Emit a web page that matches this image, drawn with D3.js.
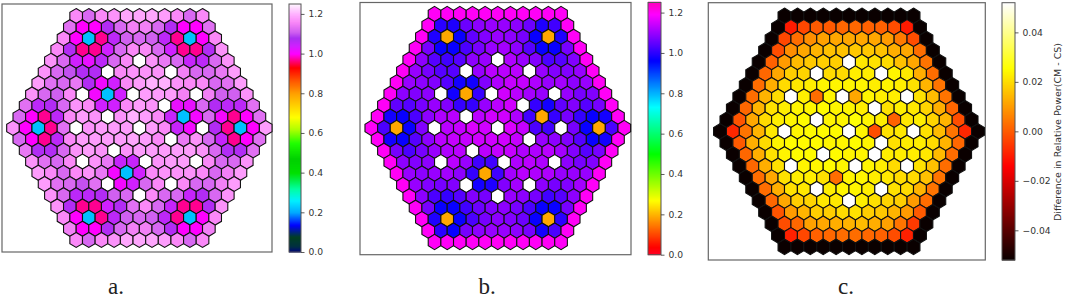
<!DOCTYPE html>
<html>
<head>
<meta charset="utf-8">
<script src="https://cdn.jsdelivr.net/npm/d3@7"></script>
<style>
  body { margin: 0; background: #fff; }
  svg { display: block; }
</style>
</head>
<body>
<svg width="1065" height="300"></svg>
<script>
// null = empty position, drawn white
const valuesA = [
  [1.16,1.12,1.16,1.17,1.19,1.19,1.19,1.18,1.16,1.12,1.16],
  [1.13,1.00,1.00,1.07,1.12,1.15,1.15,1.12,1.07,1.00,1.00,1.13],
  [1.16,1.00,0.22,0.97,1.06,1.11,1.12,1.11,1.06,0.97,0.22,1.00,1.16],
  [1.16,1.07,0.97,0.97,1.04,1.12,1.16,1.16,1.12,1.04,0.97,0.97,1.07,1.17],
  [1.17,1.12,1.04,1.02,1.06,1.12,1.16,null,1.17,1.14,1.12,1.05,1.06,1.12,1.17],
  [1.17,1.12,1.10,1.07,1.07,null,1.16,1.17,1.17,1.17,null,1.15,1.12,1.12,1.14,1.18],
  [1.18,1.13,1.12,1.14,1.07,1.01,1.04,1.16,1.18,1.20,1.20,1.17,1.16,1.16,1.12,1.13,1.18],
  [1.17,1.12,1.11,1.16,null,1.01,0.22,1.04,null,1.18,1.18,1.18,1.15,null,1.15,1.11,1.11,1.17],
  [1.13,1.06,1.07,1.12,1.17,1.16,1.04,1.04,1.16,1.18,1.17,null,1.02,1.02,1.12,1.07,1.06,1.06,1.13],
  [1.12,1.00,0.97,1.06,1.16,1.18,1.17,null,1.17,1.20,1.18,1.16,1.05,0.22,1.01,1.12,1.01,0.97,1.00,1.13],
  [1.17,1.00,0.22,0.97,1.13,null,1.17,1.18,1.18,1.18,null,1.18,1.16,1.05,1.01,null,1.07,0.97,0.22,1.00,1.18],
  [1.12,1.00,0.97,1.06,1.16,1.18,1.18,1.18,1.18,1.19,1.18,1.16,null,1.14,1.17,1.12,1.05,0.97,1.00,1.13],
  [1.14,1.07,1.07,1.12,1.17,1.18,1.17,null,1.17,1.18,1.18,1.18,1.18,1.18,1.17,1.12,1.07,1.07,1.13],
  [1.17,1.13,1.12,1.16,null,1.17,1.14,1.05,1.05,null,1.17,1.18,1.18,null,1.16,1.12,1.12,1.17],
  [1.18,1.16,1.12,1.16,1.17,1.14,1.01,0.22,1.04,1.16,1.17,1.17,1.17,1.16,1.12,1.15,1.18],
  [1.18,1.13,1.12,1.10,1.13,null,1.01,1.04,1.12,1.16,null,1.16,1.12,1.12,1.15,1.18],
  [1.17,1.12,1.06,1.06,1.07,1.11,1.12,null,1.16,1.12,1.12,1.05,1.07,1.12,1.17],
  [1.17,1.07,0.97,0.97,1.04,1.07,1.13,1.16,1.12,1.05,0.97,0.97,1.07,1.17],
  [1.16,1.00,0.22,0.97,1.06,1.11,1.12,1.11,1.06,0.97,0.22,1.00,1.16],
  [1.15,1.00,1.00,1.07,1.12,1.15,1.15,1.12,1.07,1.00,1.00,1.15],
  [1.16,1.12,1.16,1.17,1.19,1.19,1.19,1.18,1.16,1.12,1.16]
];

const valuesB = [
  [1.20,1.20,1.20,1.20,1.20,1.20,1.20,1.20,1.20,1.20,1.20],
  [1.20,1.00,0.99,1.06,1.09,1.10,1.10,1.09,1.06,0.99,1.02,1.20],
  [1.20,0.99,0.19,0.97,1.05,1.08,1.10,1.09,1.07,0.97,0.19,0.99,1.20],
  [1.20,1.07,0.97,0.97,1.03,1.07,1.10,1.11,1.09,1.04,0.97,0.97,1.07,1.20],
  [1.20,1.09,1.04,1.02,1.04,1.09,1.10,null,1.12,1.10,1.08,1.03,1.04,1.08,1.20],
  [1.20,1.10,1.07,1.04,1.04,null,1.10,1.13,1.13,1.13,null,1.10,1.08,1.08,1.10,1.20],
  [1.20,1.10,1.09,1.08,1.04,0.98,0.98,1.08,1.12,1.14,1.14,1.12,1.10,1.11,1.09,1.10,1.20],
  [1.20,1.09,1.08,1.09,null,0.98,0.19,1.01,null,1.15,1.13,1.11,1.10,null,1.10,1.07,1.08,1.20],
  [1.20,1.05,1.04,1.07,1.10,1.08,1.01,1.01,1.10,1.13,1.15,null,1.01,0.98,1.05,1.08,1.04,1.07,1.20],
  [1.20,0.98,0.97,1.03,1.09,1.12,1.13,null,1.13,1.15,1.15,1.12,1.02,0.19,1.01,1.07,1.01,0.97,0.98,1.20],
  [1.20,1.03,0.19,0.97,1.08,null,1.13,1.14,1.16,1.15,null,1.16,1.14,1.03,1.02,null,1.07,0.97,0.19,1.03,1.20],
  [1.20,0.98,0.97,1.04,1.09,1.13,1.14,1.14,1.15,1.15,1.15,1.14,null,1.10,1.09,1.08,1.04,0.97,0.98,1.20],
  [1.20,1.07,1.03,1.07,1.10,1.12,1.13,null,1.13,1.14,1.14,1.12,1.12,1.13,1.11,1.08,1.04,1.07,1.20],
  [1.20,1.09,1.08,1.09,null,1.13,1.10,1.02,1.02,null,1.12,1.13,1.12,null,1.09,1.07,1.08,1.20],
  [1.20,1.10,1.09,1.10,1.11,1.09,1.01,0.19,1.02,1.11,1.13,1.12,1.12,1.10,1.10,1.10,1.20],
  [1.20,1.10,1.08,1.07,1.08,null,0.98,0.99,1.08,1.11,null,1.09,1.07,1.08,1.11,1.20],
  [1.20,1.09,1.03,1.01,1.04,1.08,1.07,null,1.10,1.09,1.07,1.02,1.04,1.09,1.20],
  [1.20,1.07,0.97,0.97,1.02,1.06,1.08,1.09,1.07,1.03,0.97,0.97,1.07,1.20],
  [1.20,0.99,0.19,0.97,1.03,1.07,1.09,1.08,1.06,0.97,0.19,1.00,1.20],
  [1.20,1.00,0.97,1.07,1.09,1.10,1.10,1.09,1.07,0.98,1.03,1.20],
  [1.20,1.20,1.20,1.20,1.20,1.20,1.20,1.20,1.20,1.20,1.20]
];

const valuesC = [
  [-0.052,-0.052,-0.052,-0.052,-0.052,-0.052,-0.052,-0.052,-0.052,-0.052,-0.052],
  [-0.052,-0.010,-0.003,0.000,0.000,0.002,0.002,0.001,0.001,-0.002,-0.010,-0.052],
  [-0.052,-0.003,0.003,0.008,0.011,0.012,0.012,0.012,0.012,0.010,0.005,-0.002,-0.052],
  [-0.052,-0.002,0.008,0.012,0.014,0.016,0.016,0.017,0.017,0.016,0.013,0.012,0.003,-0.052],
  [-0.052,0.001,0.010,0.015,0.017,0.018,0.018,null,0.022,0.021,0.020,0.016,0.012,0.004,-0.052],
  [-0.052,0.002,0.012,0.018,0.019,null,0.020,0.020,0.023,0.023,null,0.024,0.022,0.013,0.003,-0.052],
  [-0.052,0.003,0.013,0.020,0.022,0.023,0.024,0.024,0.024,0.024,0.023,0.024,0.023,0.021,0.014,0.004,-0.052],
  [-0.052,0.003,0.014,0.020,null,0.023,0.003,0.024,null,0.012,0.024,0.023,0.023,null,0.021,0.015,0.004,-0.052],
  [-0.052,0.002,0.014,0.021,0.023,0.024,0.024,0.025,0.024,0.024,0.023,null,0.021,0.023,0.022,0.019,0.013,0.002,-0.052],
  [-0.052,-0.001,0.012,0.020,0.023,0.024,0.025,null,0.024,0.024,0.026,0.024,0.023,0.001,0.022,0.023,0.019,0.014,-0.002,-0.052],
  [-0.052,-0.008,0.004,0.014,0.022,null,0.024,0.025,0.025,0.025,null,0.024,-0.002,0.021,0.022,null,0.021,0.015,0.004,-0.008,-0.052],
  [-0.052,0.000,0.013,0.020,0.024,0.025,0.025,0.025,0.024,0.024,0.025,0.024,null,0.021,0.023,0.023,0.020,0.014,0.002,-0.052],
  [-0.052,0.002,0.013,0.021,0.024,0.025,0.025,null,0.025,0.024,0.024,null,0.023,0.023,0.023,0.022,0.015,0.003,-0.052],
  [-0.052,0.002,0.013,0.021,null,0.024,0.024,0.025,0.024,null,0.024,0.023,0.020,null,0.021,0.016,0.003,-0.052],
  [-0.052,0.003,0.012,0.021,0.023,0.023,0.021,0.003,0.024,0.024,0.023,0.022,0.020,0.020,0.016,0.004,-0.052],
  [-0.052,0.003,0.013,0.021,0.022,null,0.023,0.024,0.024,0.023,null,0.021,0.020,0.014,0.004,-0.052],
  [-0.052,0.002,0.012,0.018,0.019,0.022,0.022,null,0.023,0.021,0.019,0.018,0.010,0.003,-0.052],
  [-0.052,-0.001,0.010,0.014,0.018,0.018,0.020,0.021,0.018,0.017,0.014,0.010,0.000,-0.052],
  [-0.052,-0.002,0.002,0.011,0.012,0.013,0.014,0.015,0.013,0.011,0.004,-0.005,-0.052],
  [-0.052,-0.009,-0.003,0.001,0.002,0.003,0.003,0.002,0.001,-0.002,-0.009,-0.052],
  [-0.052,-0.052,-0.052,-0.052,-0.052,-0.052,-0.052,-0.052,-0.052,-0.052,-0.052]
];

const ticksA = [0, 0.2, 0.4, 0.6, 0.8, 1.0, 1.2];
const ticksB = [0, 0.2, 0.4, 0.6, 0.8, 1.0, 1.2];
const ticksC = [-0.04, -0.02, 0, 0.02, 0.04];
const panelLabels = ['a.', 'b.', 'c.'];
const colorbarTitle = 'Difference in Relative Power(CM - CS)';

// colormaps, stops picked off the colorbars
const ncarStops = [0, 0.03, 0.076, 0.136, 0.2, 0.26, 0.32, 0.4, 0.47, 0.55, 0.62, 0.68, 0.75, 0.8, 0.87, 0.93, 0.97, 1.0, 1.04, 1.08, 1.11, 1.16, 1.2, 1.25];
const ncarColors = ['#000080', '#003040', '#004020', '#0000ff', '#00a8ff', '#00f0ff', '#00ffa0', '#00e000', '#00d000', '#20ff00', '#b0ff00', '#ffff00', '#ffc800', '#ffa000', '#ff5000', '#ff0000', '#ff0090', '#ff00ff', '#d020ff', '#a830f0', '#d060f0', '#fa88f8', '#ffb0ff', '#fff4ff'];
const rainbowStops = [0, 0.0375, 0.269, 0.5, 0.733, 0.9625, 1.1925, 1.25];
const rainbowColors = ['#ff0029', '#ff0000', '#ffff00', '#00ff00', '#00ffff', '#0000ff', '#ff00ff', '#ff00bf'];
const hotStops = [-0.052, -0.014, 0.0256, 0.052];
const hotColors = ['#0a0000', '#ff0000', '#ffff00', '#ffffff'];

const svg = d3.select('svg');
const font = '"DejaVu Sans", sans-serif';

function drawPanel(p) {
    const g = svg.append('g');
    const x = d3.scaleLinear().domain([-10, 10]).range(p.xRange);
    const y = d3.scaleLinear().domain([0, 20]).range(p.yRange);
    const color = d3.scaleLinear().domain(p.stops).range(p.colors).clamp(true);

    g.append('rect')
        .attr('x', p.frame[0]).attr('y', p.frame[1])
        .attr('width', p.frame[2] - p.frame[0]).attr('height', p.frame[3] - p.frame[1])
        .attr('fill', '#fff').attr('stroke', '#666').attr('stroke-width', 1.2);

    const hexLine = d3.line().x(d => x(d[0])).y(d => y(d[1]));
    const hexPath = (cx, cy) => hexLine([
        [cx, cy - 2 / 3], [cx + 0.5, cy - 1 / 3], [cx + 0.5, cy + 1 / 3],
        [cx, cy + 2 / 3], [cx - 0.5, cy + 1 / 3], [cx - 0.5, cy - 1 / 3]
    ]) + 'Z';

    const cells = p.values.flatMap((row, r) => row.map((v, i) => ({
        col: i - (row.length - 1) / 2, row: r, value: v
    })));

    g.selectAll('path.cell')
        .data(cells)
        .enter().append('path')
            .attr('class', 'cell')
            .attr('d', d => hexPath(d.col, d.row))
            .attr('fill', d => d.value === null ? '#fff' : color(d.value))
            .attr('stroke', '#111')
            .attr('stroke-width', 1.1);

    // colorbar
    const cb = d3.scaleLinear().domain(p.cbDomain).range([p.frame[3], p.frame[1]]);
    const cbG = g.append('g');
    const steps = d3.range(Math.ceil(p.frame[3] - p.frame[1]));
    cbG.selectAll('rect')
        .data(steps)
        .enter().append('rect')
            .attr('x', p.cbX[0])
            .attr('y', d => p.frame[3] - d - 1)
            .attr('width', p.cbX[1] - p.cbX[0])
            .attr('height', 1.5)
            .attr('fill', d => color(cb.invert(p.frame[3] - d - 0.5)));
    g.append('rect')
        .attr('x', p.cbX[0]).attr('y', p.frame[1])
        .attr('width', p.cbX[1] - p.cbX[0]).attr('height', p.frame[3] - p.frame[1])
        .attr('fill', 'none').attr('stroke', '#555').attr('stroke-width', 1);

    const axis = d3.axisRight(cb).tickValues(p.ticks).tickSize(3.5).tickPadding(4)
        .tickFormat(d => d3.format(p.fmt)(d).replace('-', '\u2212'));
    const ax = g.append('g').attr('transform', 'translate(' + p.cbX[1] + ',0)').call(axis);
    ax.select('.domain').remove();
    ax.selectAll('line').attr('stroke', '#333').attr('stroke-width', 0.8);
    ax.selectAll('text').attr('fill', '#333').attr('font-family', font).attr('font-size', p.tickFont);

    g.append('text')
        .attr('x', p.labelX).attr('y', 294)
        .attr('text-anchor', 'middle')
        .attr('font-family', '"Liberation Serif", serif')
        .attr('font-size', 23).attr('fill', '#222')
        .text(p.label);
}

drawPanel({
    values: valuesA, stops: ncarStops, colors: ncarColors, ticks: ticksA, fmt: '.1f',
    cbDomain: [0, 1.25], tickFont: 9.2,
    xRange: [13, 265.7], yRange: [16, 240], frame: [2, 4, 272, 252], cbX: [289, 301],
    label: panelLabels[0], labelX: 116
});
drawPanel({
    values: valuesB, stops: rainbowStops, colors: rainbowColors, ticks: ticksB, fmt: '.1f',
    cbDomain: [0, 1.25], tickFont: 9.2,
    xRange: [371.3, 624.3], yRange: [14, 242], frame: [360, 2.5, 631, 254.7], cbX: [648, 661],
    label: panelLabels[1], labelX: 487
});
drawPanel({
    values: valuesC, stops: hotStops, colors: hotColors, ticks: ticksC, fmt: '.2f',
    cbDomain: [-0.052, 0.052], tickFont: 9.2,
    xRange: [720, 978], yRange: [15.8, 246.9], frame: [708.3, 2.7, 985.3, 260], cbX: [1002, 1015],
    label: panelLabels[2], labelX: 846
});

svg.append('text')
    .attr('transform', 'translate(1061,132) rotate(-90)')
    .attr('text-anchor', 'middle')
    .attr('font-family', font)
    .attr('font-size', 9.5)
    .attr('fill', '#333')
    .text(colorbarTitle);
</script>
</body>
</html>
